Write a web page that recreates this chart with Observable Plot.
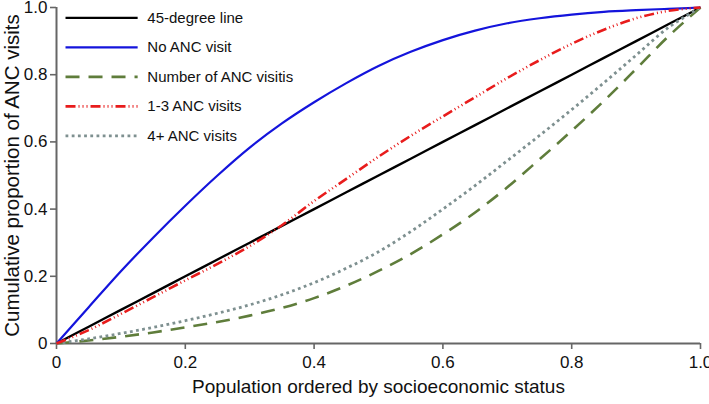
<!DOCTYPE html>
<html>
<head>
<meta charset="utf-8">
<script src="https://cdn.jsdelivr.net/npm/d3@7"></script>
<script src="https://cdn.jsdelivr.net/npm/@observablehq/plot@0.6"></script>
<style>
  html, body { margin: 0; padding: 0; background: #fff; }
  #chart { width: 709px; height: 404px; }
</style>
</head>
<body>
<div id="chart"></div>
<script>
// ---- data ----
const pop = [0, 0.05, 0.1, 0.15, 0.2, 0.25, 0.3, 0.35, 0.4, 0.45, 0.5, 0.55, 0.6, 0.65, 0.7, 0.75, 0.8, 0.85, 0.9, 0.95, 1.0];
const equality = [0, 0.05, 0.1, 0.15, 0.2, 0.25, 0.3, 0.35, 0.4, 0.45, 0.5, 0.55, 0.6, 0.65, 0.7, 0.75, 0.8, 0.85, 0.9, 0.95, 1.0];
const noVisit = [0, 0.108, 0.215, 0.315, 0.41, 0.5, 0.583, 0.655, 0.718, 0.775, 0.826, 0.868, 0.903, 0.931, 0.953, 0.968, 0.979, 0.987, 0.992, 0.996, 1.0];
const numVisits = [0, 0.009, 0.02, 0.033, 0.048, 0.064, 0.083, 0.106, 0.135, 0.172, 0.216, 0.266, 0.325, 0.39, 0.465, 0.548, 0.633, 0.722, 0.817, 0.914, 1.0];
const visits13 = [0, 0.04, 0.088, 0.138, 0.188, 0.237, 0.29, 0.352, 0.424, 0.49, 0.556, 0.618, 0.676, 0.733, 0.79, 0.843, 0.892, 0.934, 0.968, 0.99, 1.0];
const visits4 = [0, 0.014, 0.03, 0.048, 0.068, 0.09, 0.115, 0.145, 0.181, 0.224, 0.273, 0.333, 0.4, 0.47, 0.544, 0.619, 0.696, 0.776, 0.858, 0.94, 1.0];
const seriesNames = ["45-degree line", "No ANC visit", "Number of ANC visitis", "1-3 ANC visits", "4+ ANC visits"];
const xTicks = [0, 0.2, 0.4, 0.6, 0.8, 1.0];
const yTicks = [0, 0.2, 0.4, 0.6, 0.8, 1.0];
const xLabel = "Population ordered by socioeconomic status";
const yLabel = "Cumulative proportion of ANC visits";

// ---- styles ----
const seriesValues = [equality, noVisit, numVisits, visits13, visits4];
const styles = [
  {stroke: "#000000", strokeWidth: 2.4, dash: null},
  {stroke: "#1414dc", strokeWidth: 2.2, dash: null},
  {stroke: "#5f7d3b", strokeWidth: 2.6, dash: "14,9"},
  {stroke: "#e81c1c", strokeWidth: 2.6, dash: "10,3,1,3,1,3,1,3"},
  {stroke: "#7e9090", strokeWidth: 2.8, dash: "2.8,3.4"}
];
const drawOrder = [0, 1, 2, 4, 3];

const lineMarks = drawOrder.map(i => {
  const rows = pop.map((p, k) => ({x: p, y: seriesValues[i][k]}));
  return Plot.line(rows, {
    x: "x", y: "y",
    curve: "catmull-rom",
    stroke: styles[i].stroke,
    strokeWidth: styles[i].strokeWidth,
    strokeDasharray: styles[i].dash,
    strokeLinecap: "butt"
  });
});

// legend inside the plot (data-space layout)
const legendRows = seriesNames.map((name, i) => ({
  name, i,
  x1: 0.014, x2: 0.126, xt: 0.141,
  y: 0.969 - i * 0.0878
}));
const legendMarks = legendRows.flatMap(r => [
  Plot.link([r], {
    x1: "x1", x2: "x2", y1: "y", y2: "y",
    stroke: styles[r.i].stroke,
    strokeWidth: styles[r.i].strokeWidth,
    strokeDasharray: styles[r.i].dash,
    strokeLinecap: "butt"
  }),
  Plot.text([r], {x: "xt", y: "y", text: "name", textAnchor: "start", fontSize: 15, fill: "#111"})
]);

const fmt = d => d === 0 ? "0" : d.toFixed(1);

const chart = Plot.plot({
  width: 709,
  height: 404,
  marginLeft: 56,
  marginRight: 9,
  marginTop: 7,
  marginBottom: 61,
  style: {fontFamily: "'Liberation Sans', Arial, sans-serif", background: "#fff"},
  x: {domain: [0, 1]},
  y: {domain: [0, 1]},
  marks: [
    Plot.axisX({ticks: xTicks, tickFormat: fmt, tickSize: 6, tickPadding: 6, stroke: "#666", strokeWidth: 1.6, fontSize: 17, fill: "#111", label: null}),
    Plot.axisY({ticks: yTicks, tickFormat: fmt, tickSize: 6, tickPadding: 3, stroke: "#666", strokeWidth: 1.6, fontSize: 17, fill: "#111", label: null}),
    Plot.ruleY([0], {stroke: "#666", strokeWidth: 2}),
    Plot.ruleX([0], {stroke: "#666", strokeWidth: 2}),
    ...lineMarks,
    ...legendMarks,
    Plot.text([xLabel], {frameAnchor: "bottom", dy: 43, lineAnchor: "middle", fontSize: 19, fill: "#111"}),
    Plot.text([yLabel], {frameAnchor: "left", dx: -44, rotate: -90, textAnchor: "middle", lineAnchor: "middle", fontSize: 20.5, fill: "#111"})
  ]
});
document.getElementById("chart").appendChild(chart);
</script>
</body>
</html>
